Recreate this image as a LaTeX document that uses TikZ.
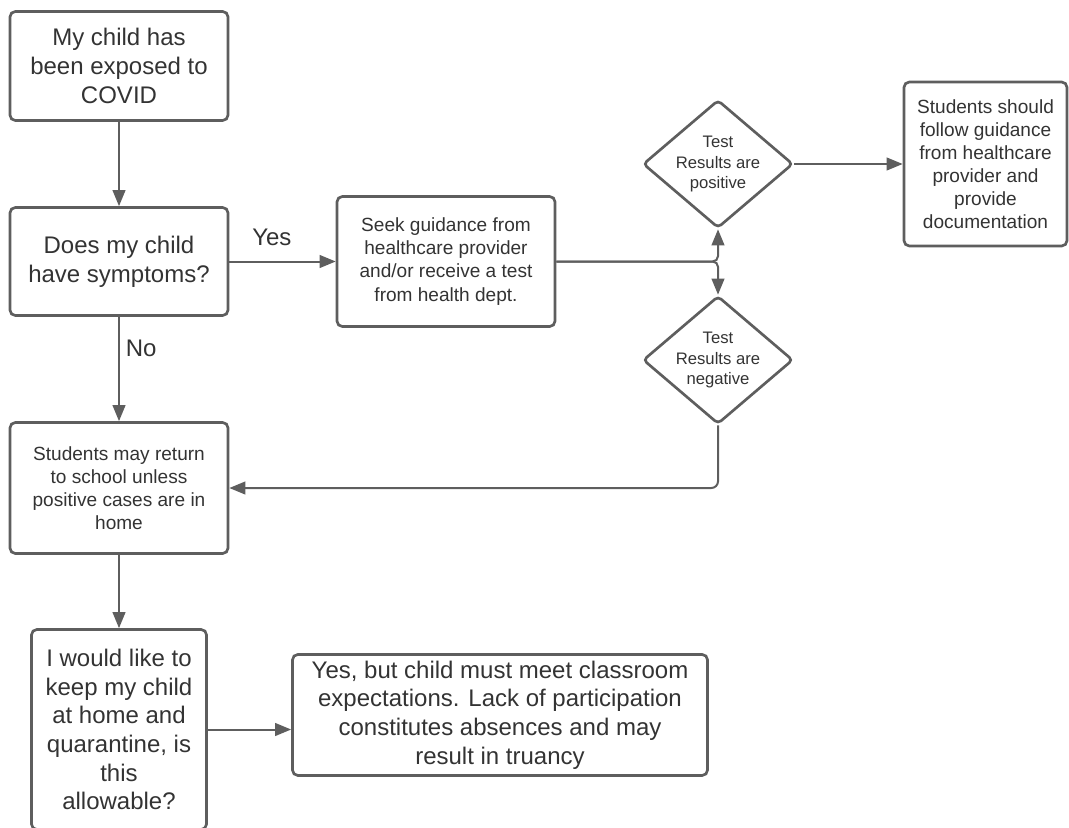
\documentclass[tikz,border=0pt]{standalone}
\usepackage{fontspec}
\setmainfont{Liberation Sans}
\usetikzlibrary{arrows.meta,positioning,shapes.geometric}
\definecolor{linegray}{HTML}{5E5E5E}
\definecolor{textgray}{HTML}{333333}

\begin{document}
\begin{tikzpicture}[
        x=0.75pt, y=-0.75pt,
        node distance=60pt,
        box/.style={rectangle,draw=linegray,line width=2pt,rounded corners=4pt,align=center,text=textgray,inner sep=2pt},
        bigtxt/.style={font=\fontsize{18}{21.5}\selectfont},
        smalltxt/.style={font=\fontsize{14.3}{17.3}\selectfont},
        decision/.style={diamond,draw=linegray,line width=2pt,rounded corners=3pt,aspect=1.17,inner sep=0pt,align=center,text=textgray,font=\fontsize{12.5}{15.2}\selectfont,minimum width=112.5pt,minimum height=96pt},
        arrow/.style={-{Triangle[length=12pt,width=9.5pt]},draw=linegray,line width=1.5pt},
        lbl/.style={text=textgray,font=\fontsize{18}{21.5}\selectfont}
    ]
        \useasboundingbox (0,0) rectangle (1069,827);

        \node[box, bigtxt, minimum width=163.5pt, minimum height=81.75pt] (expo) at (119,66) {My child has\\been exposed to\\COVID};
        \node[box, bigtxt, minimum width=163.5pt, minimum height=81pt, below=63.25pt of expo] (symp) {Does my child\\have symptoms?};
        \node[box, smalltxt, minimum width=163.5pt, minimum height=97.5pt, right=79.75pt of symp] (seek) {Seek guidance from\\healthcare provider\\and/or receive a test\\from health dept.};
        \node[decision] (pos) at (718,164) {Test\\Results are\\positive};
        \node[decision] (neg) at (718,360) {Test\\Results are\\negative};
        \node[box, smalltxt, minimum width=122.25pt, minimum height=123pt] (follow) at (985.5,164) {Students should\\follow guidance\\from healthcare\\provider and\\provide\\documentation};
        \node[box, smalltxt, minimum width=163.5pt, minimum height=98.25pt, below=78.25pt of symp] (ret) {Students may return\\to school unless\\positive cases are in\\home};
        \node[box, bigtxt, minimum width=131.25pt, minimum height=150pt, below=55pt of ret] (keep) {I would like to\\keep my child\\at home and\\quarantine, is\\this\\allowable?};
        \node[box, bigtxt, minimum width=311.25pt, minimum height=90.75pt, right=62.5pt of keep, yshift=10.9pt] (truan) {Yes, but child must meet classroom\\expectations. Lack of participation\\constitutes absences and may\\result in truancy};

        \draw[arrow] (expo) -- (symp);
        \draw[arrow] (symp) -- node[lbl, pos=0.4, above=8pt] {Yes} (seek);
        \draw[arrow] (symp) -- node[lbl, pos=0.3, right=1pt] {No} (ret);

        \draw[arrow, rounded corners=4pt] (seek.east) -| (pos.south);
        \draw[arrow, rounded corners=4pt] (seek.east) -| (neg.north);
        \draw[arrow] (pos) -- (follow);

        \draw[arrow, rounded corners=5pt] (neg.south) |- (ret.east);
        \draw[arrow] (ret) -- (keep);
        \draw[arrow] (keep.east) -- (keep.east -| truan.west);
    \end{tikzpicture}
\end{document}
